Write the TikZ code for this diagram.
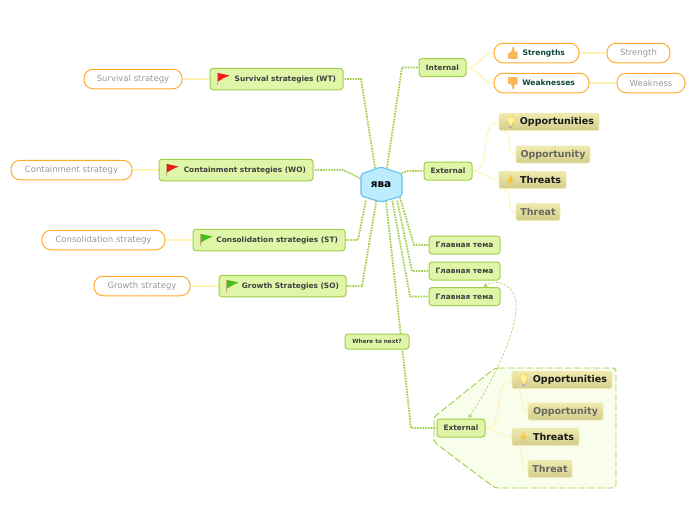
\documentclass[tikz,border=0pt]{standalone}
\usepackage{fontspec}
\setmainfont{DejaVu Sans}
\definecolor{BranchGreen}{HTML}{A3CE4A}
\definecolor{BoxGreen}{HTML}{DFF5A8}
\definecolor{GroupFill}{HTML}{F9FDEC}
\definecolor{HubBlue}{HTML}{BEECFF}
\definecolor{HubLine}{HTML}{62C1F0}
\definecolor{PillOrange}{HTML}{FFA92E}
\definecolor{PaleYellow}{HTML}{FFF3B5}
\definecolor{SandTop}{HTML}{F0EAAE}
\definecolor{SandLow}{HTML}{D3CC8E}
\definecolor{DarkTeal}{HTML}{12473B}
\definecolor{GrayText}{HTML}{9A9A9A}
\definecolor{SandGray}{HTML}{67675F}
\definecolor{IconOrange}{HTML}{F6B858}
\definecolor{FlagRed}{HTML}{EE1C14}
\definecolor{FlagGreen}{HTML}{46BE14}
\definecolor{FlagPole}{HTML}{C8AC78}
\definecolor{BulbYellow}{HTML}{FFF09A}
\definecolor{BoltYellow}{HTML}{F7C534}
\usetikzlibrary{arrows.meta, backgrounds, calc}
\tikzset{
  box/.style={
    rectangle, rounded corners=3pt, fill=BoxGreen, draw=BranchGreen,
    line width=1pt, minimum width=#1, minimum height=18pt, inner sep=0pt,
    text=black!75, font=\bfseries\fontsize{7.4}{9}\selectfont
  },
  flagbox/.style={
    box=10pt, text width=#1, align=right, inner xsep=7pt, minimum height=21.5pt
  },
  pill/.style={
    rectangle, rounded corners=9pt, fill=white, draw=PillOrange,
    line width=1pt, minimum width=#1, minimum height=19.5pt, inner sep=0pt,
    text=GrayText, font=\fontsize{8.5}{10}\selectfont
  },
  iconpill/.style={
    pill=10pt, text width=#1, align=right, inner xsep=14pt,
    text=DarkTeal, font=\bfseries\fontsize{7.6}{9}\selectfont
  },
  sand/.style={
    rectangle, rounded corners=2pt, top color=SandTop, bottom color=SandLow,
    draw=SandTop, line width=0.6pt, minimum width=#1, minimum height=17pt,
    inner sep=0pt, text=SandGray, font=\bfseries\fontsize{9.5}{11}\selectfont
  },
  iconsand/.style={
    sand=10pt, text width=#1, align=right, inner xsep=5pt, text=black!90
  },
  hubbox/.style={
    minimum width=36pt, minimum height=32pt, inner sep=0pt,
    font=\bfseries\fontsize{10.5}{12}\selectfont
  },
  hexline/.style={fill=HubBlue, draw=HubLine, line width=1.1pt, rounded corners=2pt},
  link/.style={color=BranchGreen, line width=1.8pt, dash pattern=on 1.6pt off 1.1pt},
  twig/.style={color=PaleYellow, line width=1pt},
  stem/.style={color=PaleYellow, line width=1.6pt},
  relarr/.style={{Latex[length=4pt,width=5pt]}-{Latex[length=4pt,width=5pt]},
    color=BranchGreen!80, line width=0.7pt, dashed, dash pattern=on 2.5pt off 1.5pt},
  groupline/.style={fill=GroupFill, draw=BranchGreen, line width=0.9pt,
    dash pattern=on 7pt off 2.5pt, rounded corners=3pt},
  flagicon/.pic={
    \draw[FlagPole, line width=1pt] (-6,-6.5) -- (-6,6);
    \fill[#1] (-5.5,-6) -- (6,-3.5) -- (0,-0.8) -- (-5.5,2.5) -- cycle;
  },
  thumbicon/.pic={
    \fill[IconOrange] (-5,-0.5) rectangle (-3,6);
    \fill[IconOrange, rounded corners=1pt] (-2.5,-0.8) -- (-0.5,-2.5) -- (0,-6.5) -- (2,-6) -- (1.8,-1.5)
      -- (5,-1.5) -- (5,6) -- (-2.5,6) -- cycle;
  },
  bulbicon/.pic={
    \fill[gray!60] (-1.6,3.5) rectangle (1.6,6);
    \fill[BulbYellow, draw=BoltYellow, line width=0.4pt] (-1.6,3.5) -- (-1.6,1.5) .. controls (-5.5,-1) and (-3.5,-6) .. (0,-6)
      .. controls (3.5,-6) and (5.5,-1) .. (1.6,1.5) -- (1.6,3.5) -- cycle;
  },
  boltIcon/.pic={
    \fill[BoltYellow] (1.5,-6) -- (-3.5,1) -- (-0.5,1) -- (-2.5,6) -- (3.5,-1.5) -- (0.5,-1.5) -- cycle;
  },
}
\begin{document}
\begin{tikzpicture}[x=1pt, y=-1pt]
\useasboundingbox (0,0) rectangle (696,520);

\node[hubbox] at (381,184.5) (hub) {ява};

\node[box=47pt] at (442.5,67.5) (internal) {Internal};
\node[iconpill=57pt] at (536.5,53) (strengths) {Strengths};
\node[iconpill=67pt] at (541.5,83) (weaknesses) {Weaknesses};
\node[pill=63pt] at (638.5,53) (strength) {Strength};
\node[pill=68pt] at (651,83) (weakness) {Weakness};

\node[box=48pt] at (448,171) (external) {External};
\node[iconsand=90pt] at (549,122) (opps) {Opportunities};
\node[sand=74pt] at (553,154.5) (opp) {Opportunity};
\node[iconsand=57pt] at (532.5,180) (threats) {Threats};
\node[sand=44pt] at (538,212) (threat) {Threat};

\node[box=71pt] at (464.5,245) (mainA) {Главная тема};
\node[box=71pt] at (464.5,271) (mainB) {Главная тема};
\node[box=71pt] at (464.5,296.5) (mainC) {Главная тема};

\node[box=64pt, minimum height=15pt, font=\bfseries\fontsize{5.7}{7}\selectfont] at (377,341.5) (next) {Where to next?};

\node[box=48pt] at (461,428) (externalB) {External};
\node[iconsand=90pt] at (562,380) (oppsB) {Opportunities};
\node[sand=75pt] at (565.5,411.5) (oppB) {Opportunity};
\node[iconsand=57pt] at (545.5,437) (threatsB) {Threats};
\node[sand=44pt] at (550,469) (threatB) {Threat};

\node[flagbox=119pt] at (276.5,79) (survival) {Survival strategies (WT)};
\node[flagbox=140pt] at (236,170) (containment) {Containment strategies (WO)};
\node[flagbox=138pt] at (269,240) (consolidation) {Consolidation strategies (ST)};
\node[flagbox=113pt] at (282.5,286) (growth) {Growth Strategies (SO)};

\node[pill=98pt] at (133,79) (survivalS) {Survival strategy};
\node[pill=121pt] at (71.5,170) (containmentS) {Containment strategy};
\node[pill=123pt] at (103.5,240) (consolidationS) {Consolidation strategy};
\node[pill=96pt] at (142,286) (growthS) {Growth strategy};

\pic at ([xshift=14pt]survival.west) {flagicon=FlagRed};
\pic at ([xshift=14pt]containment.west) {flagicon=FlagRed};
\pic at ([xshift=14pt]consolidation.west) {flagicon=FlagGreen};
\pic at ([xshift=14pt]growth.west) {flagicon=FlagGreen};
\pic at ([xshift=19pt]strengths.west) {thumbicon};
\pic[yscale=-1] at ([xshift=19pt]weaknesses.west) {thumbicon};
\pic at ([xshift=12pt]opps.west) {bulbicon};
\pic at ([xshift=12pt]oppsB.west) {bulbicon};
\pic at ([xshift=12pt]threats.west) {boltIcon};
\pic at ([xshift=12pt]threatsB.west) {boltIcon};

\draw[relarr] (externalB.52) .. controls (490,385) and (517,335) .. (516,305)
  .. controls (516,285) and (498,278) .. (mainC.27);

\begin{scope}[on background layer]
\draw[groupline] (495,368) -- (616,368) -- (616,488) -- (495,488) -- (434,442) -- (434,417) -- cycle;

\draw[link] (hub.110) -- (361,79) -- (survival.east);
\draw[link] (hub.165) -- (343,170) -- (containment.east);
\draw[link] (hub.-133) -- (358,240) -- (consolidation.east);
\draw[link] (hub.-106) -- (362,286) -- (growth.east);
\draw[link] (hub.70) -- (402,67.5) -- (internal.west);
\draw[link] (hub.30) -- (408,171) -- (external.west);
\draw[link] (hub.-30) -- (414,245) -- (mainA.west);
\draw[link] (hub.-45) -- (412,271) -- (mainB.west);
\draw[link] (hub.-55) -- (410,296.5) -- (mainC.west);
\draw[link] (hub.-73) -- (411,428) -- (externalB.west);

\draw[hexline, shift={(hub)}] (0,-17.5) -- (21,-10.5) -- (21,11.5) -- (0,17.5) -- (-20,11.5) -- (-20,-10.5) -- cycle;

\draw[twig] (internal.east) to[out=0, in=180] (strengths.west);
\draw[twig] (internal.east) to[out=0, in=180] (weaknesses.west);
\draw[stem] (strengths.east) -- (strength.west);
\draw[stem] (weaknesses.east) -- (weakness.west);
\draw[twig] (external.east) to[out=0, in=180] (opps.west);
\draw[twig] (external.east) to[out=0, in=180] (threats.west);
\draw[twig] ([xshift=5pt]opps.south west) to[out=-20, in=180] (opp.west);
\draw[twig] ([xshift=5pt]threats.south west) to[out=-20, in=180] (threat.west);
\draw[twig] (externalB.east) to[out=0, in=180] (oppsB.west);
\draw[twig] (externalB.east) to[out=0, in=180] (threatsB.west);
\draw[twig] ([xshift=5pt]oppsB.south west) to[out=-20, in=180] (oppB.west);
\draw[twig] ([xshift=5pt]threatsB.south west) to[out=-20, in=180] (threatB.west);
\draw[stem] (survival.west) -- (survivalS.east);
\draw[stem] (containment.west) -- (containmentS.east);
\draw[stem] (consolidation.west) -- (consolidationS.east);
\draw[stem] (growth.west) -- (growthS.east);
\end{scope}

\end{tikzpicture}
\end{document}
